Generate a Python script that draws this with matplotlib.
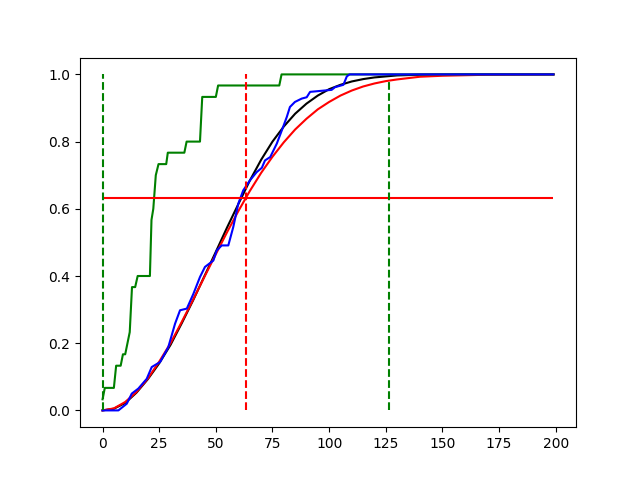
import matplotlib
matplotlib.use('Agg')
import matplotlib.pyplot as plt

# curva ajustada 1 (preta)
fit_x = [0, 5, 10, 15, 20, 25, 30, 35, 40, 45, 50, 55, 60, 65, 70, 75, 80, 85,
         90, 95, 100, 105, 110, 115, 120, 130, 140, 160, 199]
fit_y = [0, 0.005, 0.022, 0.053, 0.093, 0.140, 0.195, 0.260, 0.328, 0.400, 0.472,
         0.545, 0.615, 0.684, 0.746, 0.800, 0.845, 0.883, 0.913, 0.937, 0.956,
         0.969, 0.979, 0.986, 0.991, 0.997, 0.999, 1.0, 1.0]

# curva ajustada 2 (vermelha)
wb_x = [0, 5, 10, 15, 20, 25, 30, 35, 40, 45, 50, 55, 60, 65, 70, 75, 80, 85,
        90, 95, 100, 105, 110, 115, 120, 125, 130, 140, 150, 170, 199]
wb_y = [0, 0.006, 0.025, 0.055, 0.095, 0.145, 0.200, 0.264, 0.330, 0.398, 0.465,
        0.531, 0.594, 0.653, 0.707, 0.755, 0.798, 0.836, 0.868, 0.896, 0.918,
        0.937, 0.952, 0.964, 0.973, 0.980, 0.985, 0.993, 0.996, 0.999, 1.0]

# empirica (azul)
emp_x = [0, 7, 10.7, 12.9, 15.8, 19.5, 21.7, 25.4, 29, 32, 34.2, 37.2, 40.1, 43,
         45.2, 48.9, 50.4, 52.6, 55.5, 57.7, 59.9, 62.1, 65.1, 68, 70.3, 71.7, 74,
         76.9, 79.1, 81.3, 82.7, 84.9, 87.9, 90.1, 91.6, 101.1, 102.6, 106.3,
         107.8, 109, 199]
emp_y = [0, 0, 0.02, 0.05, 0.065, 0.094, 0.129, 0.144, 0.188, 0.258, 0.298, 0.303,
         0.347, 0.397, 0.427, 0.446, 0.476, 0.491, 0.491, 0.546, 0.615, 0.655,
         0.685, 0.709, 0.722, 0.744, 0.754, 0.794, 0.833, 0.873, 0.903, 0.918,
         0.928, 0.932, 0.948, 0.954, 0.962, 0.969, 0.994, 1.0, 1.0]

# empirica com poucos pontos (verde)
few_x = [0, 1, 5, 6, 8, 9, 10, 12, 13, 14.4, 15.5, 20.9, 21.6, 22.4, 23.5, 24.7,
         28.1, 28.8, 36.1, 37.1, 43, 44, 50, 51, 78, 79, 199]
few_y = [0.033, 0.067, 0.067, 0.133, 0.133, 0.167, 0.167, 0.233, 0.367, 0.367,
         0.4, 0.4, 0.567, 0.6, 0.7, 0.733, 0.733, 0.767, 0.767, 0.8, 0.8, 0.933,
         0.933, 0.967, 0.967, 1.0, 1.0]

# parametros
eta = 63.2
nivel = 0.632
x_max = 199
x_2eta = 126.4
f_2eta = 0.982

# plot
fig, ax = plt.subplots(figsize = (6.4, 4.8), dpi = 100)
ax.plot(fit_x, fit_y, color = 'black')
ax.plot(wb_x, wb_y, color = 'red')
ax.plot(few_x, few_y, color = 'green')
ax.plot(emp_x, emp_y, color = 'blue')
ax.hlines(nivel, 0, x_max, colors = 'red')
ax.vlines(eta, 0, 1, colors = 'red', linestyles = '--')
ax.vlines(0, 0, 1, colors = 'green', linestyles = '--')
ax.vlines(x_2eta, 0, f_2eta, colors = 'green', linestyles = '--')

plt.savefig('out.png')
